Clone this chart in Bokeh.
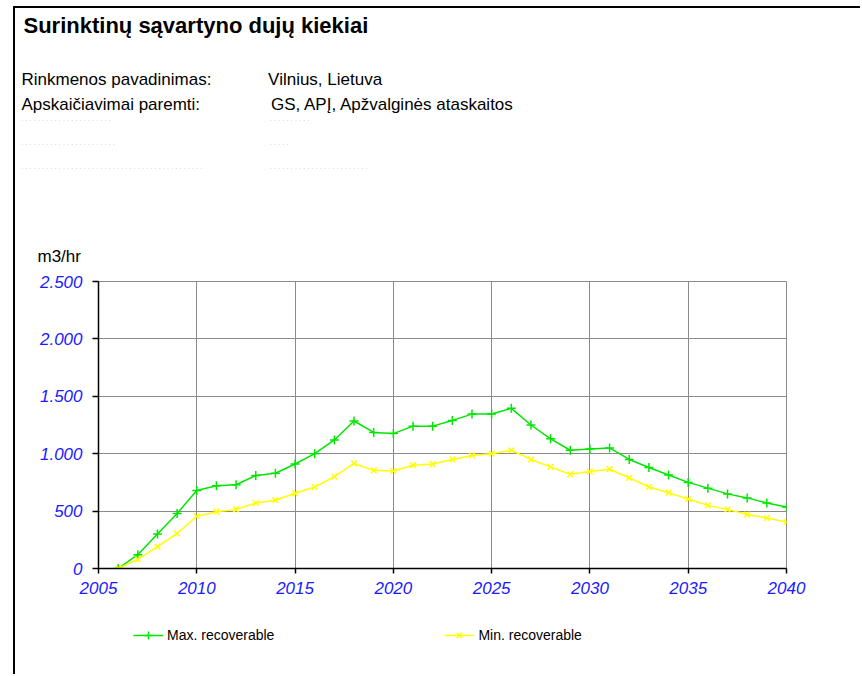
from bokeh.plotting import figure
from bokeh.models import Range1d, FixedTicker, Legend, LegendItem, Title
from bokeh.layouts import column
from bokeh.embed import file_html
from bokeh.resources import INLINE

# ---- data -------------------------------------------------------------
years = list(range(2006, 2041))
max_recoverable = [0, 120, 300, 480, 680, 720, 730, 810, 830, 910, 1000, 1120,
                   1285, 1185, 1175, 1240, 1240, 1290, 1345, 1345, 1395, 1250,
                   1130, 1030, 1040, 1050, 950, 880, 815, 750, 700, 650, 615,
                   570, 535]
min_recoverable = [0, 80, 190, 305, 455, 495, 515, 570, 595, 655, 710, 800,
                   915, 855, 850, 900, 910, 950, 985, 1000, 1030, 950, 885,
                   820, 845, 865, 790, 710, 660, 605, 550, 515, 470, 440, 405]
x_ticks = [2005, 2010, 2015, 2020, 2025, 2030, 2035, 2040]
y_ticks = [0, 500, 1000, 1500, 2000, 2500]
y_tick_labels = ["0", "500", "1.000", "1.500", "2.000", "2.500"]
series_names = ["Max. recoverable", "Min. recoverable"]

title_text = "Surinktinų sąvartyno dujų kiekiai"
info_keys = ["Rinkmenos pavadinimas:", "Apskaičiavimai paremti:"]
info_vals = ["Vilnius, Lietuva", "GS, APĮ, Apžvalginės ataskaitos"]
info_pad = [12, 15]                 # non-breaking spaces between key and value
unit_text = "m3/hr"
dots_left = [22, 23, 44]            # faint dotted placeholder rows
dots_gap = [115, 112, 49]
dots_right = [10, 5, 24]

FONT = "Liberation Sans"
NB = "\u00a0"
W = 845
H_CHART = 598
H_LEG = 68
green = "#00e600"
yellow = "#ffff00"

# ---- chart -------------------------------------------------------------
p = figure(width=W, height=H_CHART, output_backend="svg", toolbar_location=None,
           x_range=Range1d(2005, 2040), y_range=Range1d(0, 2500),
           min_border_left=83, min_border_right=74, min_border_top=273,
           min_border_bottom=38)
p.background_fill_color = "white"
p.border_fill_color = "white"
p.outline_line_color = "#8a8a8a"
p.outline_line_width = 1
for g in (p.xgrid, p.ygrid):
    g.grid_line_color = "#8a8a8a"
    g.grid_line_width = 1

p.xaxis.ticker = FixedTicker(ticks=x_ticks)
p.yaxis.ticker = FixedTicker(ticks=y_ticks)
p.yaxis.major_label_overrides = {t: l for t, l in zip(y_ticks, y_tick_labels)}
for ax in (p.xaxis, p.yaxis):
    ax.minor_tick_line_color = None
    ax.axis_line_color = "black"
    ax.axis_line_width = 1.5
    ax.major_tick_line_color = "black"
    ax.major_tick_line_width = 1.5
    ax.major_tick_in = 0
    ax.major_label_text_font = FONT
    ax.major_label_text_font_style = "italic"
    ax.major_label_text_font_size = "17px"
    ax.major_label_text_color = "#1a1aff"
p.xaxis.major_tick_out = 5
p.yaxis.major_tick_out = 6
p.xaxis.major_label_standoff = 8
p.yaxis.major_label_standoff = 10

p.line(years, max_recoverable, line_color=green, line_width=1.5)
p.scatter(years, max_recoverable, marker="cross", size=9,
          line_color=green, line_width=1.5)
p.line(years, min_recoverable, line_color=yellow, line_width=1.5)
p.scatter(years, min_recoverable, marker="x", size=8,
          line_color=yellow, line_width=1.5)

# ---- header texts, stacked upwards from the plot frame -----------------
def spacer(st):
    p.add_layout(Title(text=NB, text_font=FONT, text_font_size="1px",
                       standoff=st, align="left"), "above")

def row(text, offset, size="17px", style="normal", color="black", st=0):
    p.add_layout(Title(text=text, text_font=FONT, text_font_size=size,
                       text_font_style=style, text_color=color, standoff=st,
                       align="left", offset=offset, vertical_align="middle"),
                 "above")

def dots(i):
    unit = "." + NB + NB
    left = (unit * dots_left[i])[:-2]
    right = (unit * dots_right[i])[:-2]
    return left + NB * dots_gap[i] + right

spacer(12)
row(unit_text, -61)
spacer(72)
row(dots(2), -77, size="5px", color="#8a8a8a")
spacer(13)
row(dots(1), -77, size="5px", color="#8a8a8a")
spacer(13)
row(dots(0), -77, size="5px", color="#8a8a8a")
row(info_keys[1] + NB * info_pad[1] + info_vals[1], -77)
spacer(1)
row(info_keys[0] + NB * info_pad[0] + info_vals[0], -77)
spacer(27)
row(title_text, -75, size="22px", style="bold")

# ---- legend strip below the chart ------------------------------------
# The same series are attached here only so the legend can draw its samples;
# this strip's ranges keep them out of view.
lg = figure(width=W, height=H_LEG, output_backend="svg", toolbar_location=None,
            x_range=Range1d(0, 1), y_range=Range1d(0, 1),
            x_axis_type=None, y_axis_type=None,
            min_border_left=83, min_border_right=74, min_border_top=0,
            min_border_bottom=0)
lg.grid.visible = False
lg.outline_line_color = None
lg.background_fill_color = "white"
lg.border_fill_color = "white"
k1 = lg.line(years, max_recoverable, line_color=green, line_width=1.5)
m1 = lg.scatter(years, max_recoverable, marker="cross", size=9,
                line_color=green, line_width=1.5)
k2 = lg.line(years, min_recoverable, line_color=yellow, line_width=1.5)
m2 = lg.scatter(years, min_recoverable, marker="x", size=8,
                line_color=yellow, line_width=1.5)
legend = Legend(items=[LegendItem(label=series_names[0], renderers=[k1, m1]),
                       LegendItem(label=series_names[1], renderers=[k2, m2])],
                orientation="horizontal", location=(35, 29),
                glyph_width=30, glyph_height=20, label_standoff=4,
                spacing=170, padding=0, margin=0,
                border_line_color=None, background_fill_alpha=0,
                label_text_font=FONT, label_text_font_size="14px",
                label_text_color="black")
lg.add_layout(legend, "center")

layout = column(p, lg, spacing=0, margin=(6, 0, 0, 13),
                styles={"border-left": "2px solid black",
                        "border-top": "2px solid black"})

open("out.html", "w").write(file_html(layout, INLINE))
